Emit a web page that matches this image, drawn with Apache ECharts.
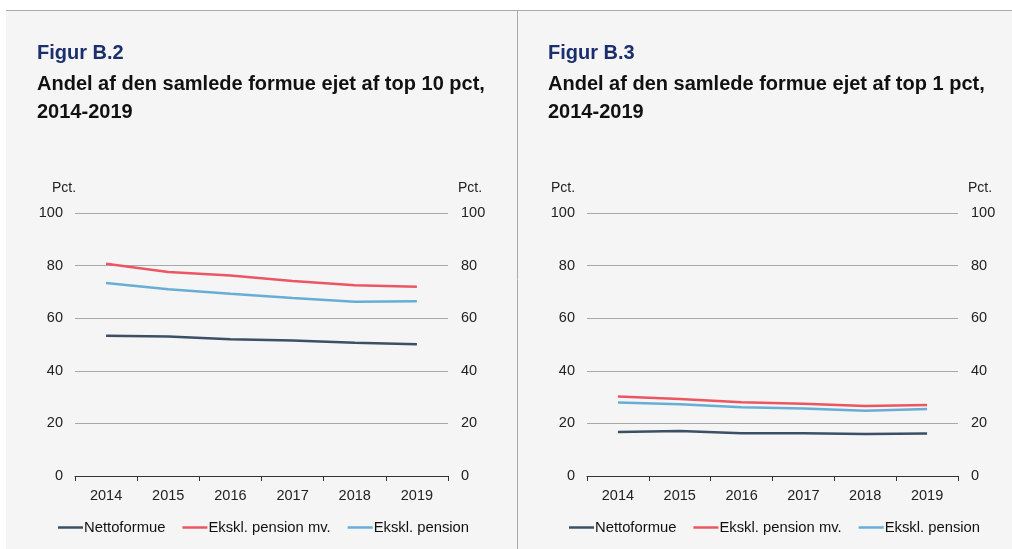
<!DOCTYPE html>
<html>
<head>
<meta charset="utf-8">
<script src="https://cdn.jsdelivr.net/npm/echarts@6/dist/echarts.min.js"></script>
<style>
html,body{margin:0;padding:0;background:#fff;}
#c{width:1012px;height:549px;}
</style>
</head>
<body>
<div id="c"></div>
<script>
var years = ['2014', '2015', '2016', '2017', '2018', '2019'];
var seriesNames = ['Nettoformue', 'Ekskl. pension mv.', 'Ekskl. pension'];
// Figur B.2: top 10 pct
var b2Netto = [53.3, 53.0, 52.0, 51.5, 50.7, 50.1];
var b2EksklPensionMv = [80.7, 77.6, 76.2, 74.1, 72.5, 72.0];
var b2EksklPension = [73.4, 71.0, 69.3, 67.7, 66.3, 66.4];
// Figur B.3: top 1 pct
var b3Netto = [16.7, 17.1, 16.3, 16.3, 16.0, 16.2];
var b3EksklPensionMv = [30.2, 29.3, 28.0, 27.5, 26.6, 27.0];
var b3EksklPension = [27.9, 27.3, 26.1, 25.7, 24.8, 25.5];
var yTicks = [0, 20, 40, 60, 80, 100];

var FONT = 'Liberation Sans, Arial, Helvetica, sans-serif';
var colors = ['#3b5064', '#ec5662', '#67aed6'];
var LBL = 14.5;

var chart = echarts.init(document.getElementById('c'), null, {renderer: 'canvas'});

function yAx(gridIndex, pos, showSplit) {
  return {
    type: 'value', gridIndex: gridIndex, position: pos,
    min: yTicks[0], max: yTicks[yTicks.length - 1], interval: yTicks[1] - yTicks[0],
    axisLine: {show: false}, axisTick: {show: false},
    axisLabel: {color: '#222', fontSize: LBL, fontFamily: FONT, margin: pos === 'left' ? 12 : 13},
    splitLine: {show: showSplit, lineStyle: {color: '#a8a8a8', width: 1}}
  };
}
function xAx(gridIndex) {
  return {
    type: 'category', gridIndex: gridIndex, data: years, boundaryGap: true,
    axisLine: {lineStyle: {color: '#333', width: 1}},
    axisTick: {show: true, length: 5, inside: false, lineStyle: {color: '#333'}},
    axisLabel: {color: '#222', fontSize: LBL, fontFamily: FONT, margin: 12}
  };
}
function ser(name, data, idx, xi, yi) {
  return {
    type: 'line', name: name, data: data, xAxisIndex: xi, yAxisIndex: yi,
    symbol: 'none', smooth: false, color: colors[idx],
    lineStyle: {width: 2.5, color: colors[idx]}, animation: false
  };
}
function legend(left) {
  return {
    left: left, top: 520, padding: 0, itemWidth: 25, itemHeight: 2.5, itemGap: 17,
    icon: 'rect',
    data: seriesNames,
    textStyle: {fontSize: 14.8, fontFamily: FONT, color: '#111', padding: [0, 0, 0, -4]}
  };
}
function titleTexts(x, fig, line1, line2) {
  return [
    {type: 'text', left: x, top: 43, style: {text: fig, font: 'bold 20px ' + FONT, fill: '#1b2f6e'}},
    {type: 'text', left: x, top: 74, style: {text: line1, font: 'bold 20px ' + FONT, fill: '#111'}},
    {type: 'text', left: x, top: 102, style: {text: line2, font: 'bold 20px ' + FONT, fill: '#111'}}
  ];
}
function pct(x) {
  return {type: 'text', left: x, top: 181, style: {text: 'Pct.', font: '14px ' + FONT, fill: '#222'}};
}

var graphics = [
  {type: 'rect', shape: {x: 6, y: 10, width: 1006, height: 539}, style: {fill: '#f5f5f5'}, z: -10},
  {type: 'line', shape: {x1: 6, y1: 10.5, x2: 1012, y2: 10.5}, style: {stroke: '#aaaaaa', lineWidth: 1}, z: -5},
  {type: 'line', shape: {x1: 517.5, y1: 10, x2: 517.5, y2: 549}, style: {stroke: '#aaaaaa', lineWidth: 1}, z: -5},
  pct(52), pct(458), pct(551), pct(968)
].concat(
  titleTexts(37, 'Figur B.2', 'Andel af den samlede formue ejet af top 10 pct,', '2014-2019'),
  titleTexts(548, 'Figur B.3', 'Andel af den samlede formue ejet af top 1 pct,', '2014-2019')
);

chart.setOption({
  backgroundColor: '#ffffff',
  animation: false,
  textStyle: {fontFamily: FONT},
  grid: [
    {left: 75, right: 1012 - 448, top: 213, bottom: 549 - 476},
    {left: 587, right: 1012 - 958, top: 213, bottom: 549 - 476}
  ],
  xAxis: [xAx(0), xAx(1)],
  yAxis: [yAx(0, 'left', true), yAx(0, 'right', false), yAx(1, 'left', true), yAx(1, 'right', false)],
  legend: [legend(58), legend(569)],
  series: [
    ser(seriesNames[0], b2Netto, 0, 0, 0),
    ser(seriesNames[1], b2EksklPensionMv, 1, 0, 0),
    ser(seriesNames[2], b2EksklPension, 2, 0, 0),
    ser(seriesNames[0], b3Netto, 0, 1, 2),
    ser(seriesNames[1], b3EksklPensionMv, 1, 1, 2),
    ser(seriesNames[2], b3EksklPension, 2, 1, 2)
  ],
  graphic: graphics
});
</script>
</body>
</html>
